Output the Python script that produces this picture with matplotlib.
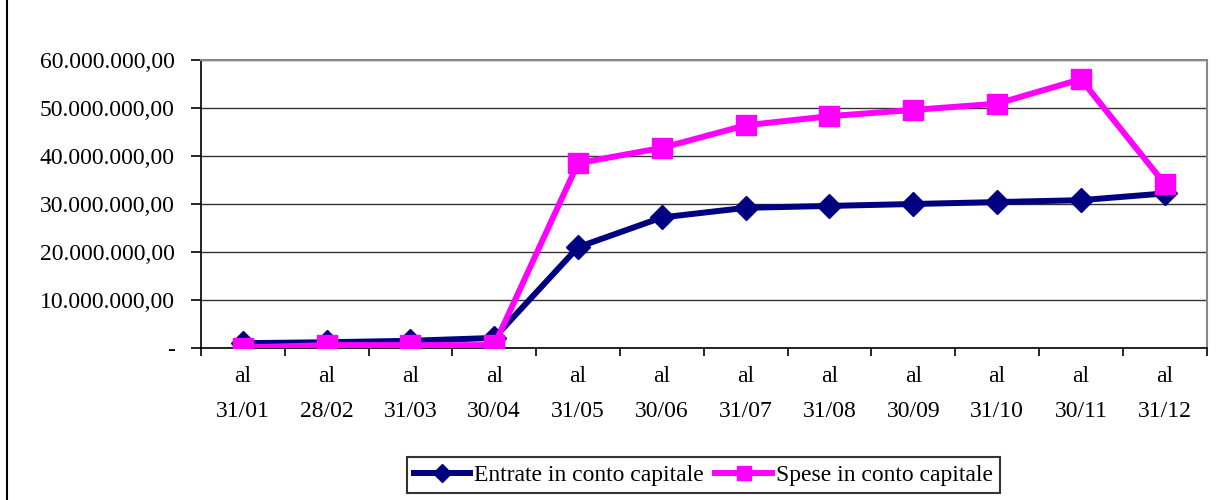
import matplotlib.pyplot as plt
from matplotlib.lines import Line2D
from matplotlib.ticker import FuncFormatter

plt.rcParams['font.family'] = ['Liberation Serif', 'DejaVu Serif']

# dati
categorie = ['al\n31/01', 'al\n28/02', 'al\n31/03', 'al\n30/04', 'al\n31/05', 'al\n30/06',
             'al\n31/07', 'al\n31/08', 'al\n30/09', 'al\n31/10', 'al\n30/11', 'al\n31/12']
entrate = [1.0e6, 1.2e6, 1.5e6, 2.1e6, 21.0e6, 27.2e6, 29.2e6, 29.6e6, 30.0e6, 30.4e6, 30.8e6, 32.2e6]
spese = [0.1e6, 0.6e6, 0.6e6, 0.6e6, 38.5e6, 41.7e6, 46.4e6, 48.3e6, 49.6e6, 50.9e6, 56.0e6, 34.2e6]

fig = plt.figure(figsize=(12.25, 5), dpi=100)
ax = fig.add_axes([0.164, 0.304, 0.821, 0.576])

x = list(range(len(categorie)))
ax.plot(x, entrate, color='#000080', lw=4.3, marker='D', ms=12.5, label='Entrate in conto capitale', zorder=3)
ax.plot(x, spese, color='#FF00FF', lw=4.3, marker='s', ms=14, label='Spese in conto capitale', zorder=4)

ax.set_xlim(-0.5, len(categorie) - 0.5)
ax.set_ylim(0, 60e6)
ax.set_yticks([i * 10e6 for i in range(7)])


def fmt(v, pos):
    if v == 0:
        return '-'
    s = '{:,.2f}'.format(v)
    return s.replace(',', 'X').replace('.', ',').replace('X', '.')


ax.yaxis.set_major_formatter(FuncFormatter(fmt))
ax.yaxis.grid(True, color='#333333', lw=1)
ax.set_axisbelow(True)

# etichette categorie al centro, tacche ai bordi
ax.set_xticks(x)
ax.set_xticklabels(categorie, linespacing=1.85)
ax.set_xticks([i - 0.5 for i in range(len(categorie) + 1)], minor=True)
ax.tick_params(axis='x', which='major', length=0, pad=13, labelsize=17)
ax.tick_params(axis='x', which='minor', length=6, width=1.2, direction='out')
ax.tick_params(axis='y', length=7, width=1.2, direction='out', labelsize=17, pad=12)

for s in ['top', 'right']:
    ax.spines[s].set_color('#888888')
    ax.spines[s].set_linewidth(1.5)
for s in ['left', 'bottom']:
    ax.spines[s].set_color('black')
    ax.spines[s].set_linewidth(1.2)

leg = fig.legend(loc='center', bbox_to_anchor=(0.574, 0.05), ncol=2, fontsize=17,
                 frameon=True, fancybox=False, edgecolor='black', handlelength=2.4,
                 handletextpad=0.15, columnspacing=0.5, borderpad=0.3, markerscale=0.75)
leg.get_frame().set_linewidth(1.5)

# bordo sinistro della figura
fig.add_artist(Line2D([7 / 1225, 7 / 1225], [0, 1], color='black', lw=1.5, transform=fig.transFigure))

fig.savefig('out.png', dpi=100)
